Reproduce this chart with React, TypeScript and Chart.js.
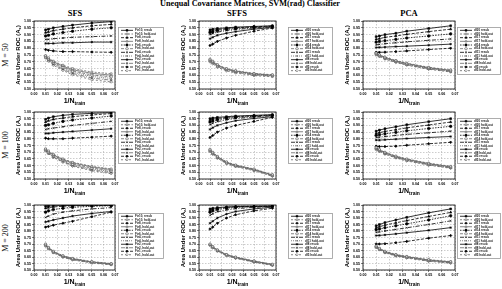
import React, { useEffect, useRef } from "react";
import { Chart, registerables } from "chart.js";
import { drawPoint } from "chart.js/helpers";
Chart.register(...registerables);

// ---------- DATA ----------
const nTrainInv = [0.01, 0.0125, 0.0167, 0.025, 0.0333, 0.05, 0.0667];
const xTickValues = [0, 0.01, 0.02, 0.03, 0.04, 0.05, 0.06, 0.07];
const yTickValues = [0.5, 0.55, 0.6, 0.65, 0.7, 0.75, 0.8, 0.85, 0.9, 0.95, 1.0];

const sfsNames = ["Ftr10", "Ftr8", "Ftr6", "Ftr4", "Ftr2", "Ftr1"];
const dfNames = ["df20", "df17", "df14", "df11", "df8", "df5"];
const columnTitles = ["SFS", "SFFS", "PCA"];
const rowTitles = ["M = 50", "M = 100", "M = 200"];
const mainTitle = "Unequal Covariance Matrices, SVM(rad) Classifier";

const sfs50Resub = [
  [0.935, 0.94, 0.95, 0.96, 0.97, 0.985, 0.995],
  [0.915, 0.92, 0.93, 0.94, 0.95, 0.965, 0.975],
  [0.89, 0.895, 0.905, 0.915, 0.925, 0.94, 0.95],
  [0.865, 0.865, 0.87, 0.875, 0.88, 0.885, 0.89],
  [0.835, 0.835, 0.835, 0.84, 0.84, 0.845, 0.845],
  [0.79, 0.785, 0.78, 0.775, 0.775, 0.772, 0.77],
];
const sfs50Hold = [
  [0.745, 0.73, 0.705, 0.675, 0.65, 0.625, 0.612],
  [0.742, 0.725, 0.7, 0.668, 0.642, 0.615, 0.602],
  [0.738, 0.72, 0.694, 0.66, 0.633, 0.603, 0.59],
  [0.735, 0.715, 0.688, 0.652, 0.624, 0.592, 0.578],
  [0.732, 0.71, 0.682, 0.644, 0.615, 0.58, 0.565],
  [0.728, 0.705, 0.675, 0.636, 0.605, 0.568, 0.552],
];
const sfs100Resub = [
  [0.945, 0.955, 0.965, 0.975, 0.982, 0.99, 0.995],
  [0.925, 0.935, 0.945, 0.955, 0.965, 0.978, 0.988],
  [0.9, 0.905, 0.915, 0.93, 0.94, 0.955, 0.97],
  [0.87, 0.875, 0.88, 0.89, 0.9, 0.915, 0.93],
  [0.84, 0.84, 0.845, 0.85, 0.855, 0.865, 0.875],
  [0.805, 0.8, 0.8, 0.8, 0.805, 0.812, 0.82],
];
const sfs100Hold = [
  [0.725, 0.71, 0.685, 0.65, 0.625, 0.595, 0.575],
  [0.72, 0.705, 0.68, 0.645, 0.62, 0.59, 0.57],
  [0.72, 0.7, 0.675, 0.64, 0.612, 0.582, 0.562],
  [0.715, 0.695, 0.67, 0.635, 0.605, 0.575, 0.555],
  [0.715, 0.69, 0.665, 0.63, 0.6, 0.568, 0.548],
  [0.71, 0.69, 0.66, 0.625, 0.595, 0.562, 0.54],
];
const sfs200Resub = [
  [0.99, 0.992, 0.994, 0.996, 0.997, 0.998, 0.999],
  [0.975, 0.98, 0.985, 0.99, 0.993, 0.995, 0.997],
  [0.945, 0.955, 0.965, 0.975, 0.982, 0.99, 0.994],
  [0.905, 0.915, 0.93, 0.945, 0.955, 0.97, 0.98],
  [0.87, 0.875, 0.885, 0.9, 0.915, 0.935, 0.95],
  [0.83, 0.835, 0.845, 0.86, 0.875, 0.91, 0.945],
];
const sfs200Hold = [
  [0.7, 0.675, 0.645, 0.61, 0.59, 0.565, 0.55],
  [0.695, 0.672, 0.642, 0.608, 0.587, 0.562, 0.548],
  [0.693, 0.67, 0.64, 0.605, 0.585, 0.56, 0.546],
  [0.69, 0.668, 0.638, 0.603, 0.583, 0.558, 0.544],
  [0.688, 0.665, 0.635, 0.6, 0.58, 0.556, 0.542],
  [0.685, 0.662, 0.632, 0.598, 0.578, 0.553, 0.54],
];
const sffs50Resub = [
  [0.935, 0.94, 0.945, 0.95, 0.955, 0.96, 0.965],
  [0.925, 0.93, 0.937, 0.945, 0.95, 0.957, 0.963],
  [0.915, 0.92, 0.93, 0.938, 0.945, 0.953, 0.96],
  [0.9, 0.908, 0.918, 0.93, 0.938, 0.948, 0.957],
  [0.87, 0.88, 0.895, 0.91, 0.922, 0.94, 0.952],
  [0.82, 0.83, 0.85, 0.875, 0.895, 0.925, 0.948],
];
const sffs50Hold = [
  [0.72, 0.705, 0.68, 0.65, 0.635, 0.615, 0.605],
  [0.715, 0.7, 0.675, 0.648, 0.632, 0.612, 0.602],
  [0.712, 0.697, 0.672, 0.645, 0.63, 0.61, 0.6],
  [0.71, 0.695, 0.67, 0.642, 0.627, 0.607, 0.597],
  [0.705, 0.69, 0.665, 0.638, 0.623, 0.603, 0.594],
  [0.7, 0.685, 0.66, 0.633, 0.618, 0.598, 0.59],
];
const sffs100Resub = [
  [0.95, 0.955, 0.96, 0.965, 0.97, 0.975, 0.98],
  [0.94, 0.945, 0.952, 0.96, 0.965, 0.972, 0.978],
  [0.925, 0.932, 0.942, 0.952, 0.96, 0.968, 0.975],
  [0.905, 0.915, 0.928, 0.942, 0.952, 0.963, 0.972],
  [0.87, 0.883, 0.9, 0.92, 0.935, 0.952, 0.965],
  [0.81, 0.825, 0.85, 0.88, 0.9, 0.93, 0.96],
];
const sffs100Hold = [
  [0.722, 0.7, 0.67, 0.628, 0.605, 0.575, 0.532],
  [0.718, 0.697, 0.667, 0.625, 0.602, 0.572, 0.53],
  [0.715, 0.694, 0.664, 0.622, 0.6, 0.57, 0.528],
  [0.712, 0.691, 0.661, 0.62, 0.598, 0.568, 0.526],
  [0.708, 0.688, 0.658, 0.617, 0.595, 0.565, 0.523],
  [0.705, 0.685, 0.655, 0.614, 0.592, 0.562, 0.52],
];
const sffs200Resub = [
  [0.97, 0.975, 0.98, 0.985, 0.988, 0.99, 0.992],
  [0.96, 0.967, 0.975, 0.982, 0.986, 0.989, 0.991],
  [0.945, 0.955, 0.965, 0.975, 0.982, 0.987, 0.99],
  [0.92, 0.932, 0.948, 0.962, 0.972, 0.982, 0.988],
  [0.86, 0.875, 0.9, 0.93, 0.95, 0.97, 0.983],
  [0.815, 0.83, 0.86, 0.9, 0.925, 0.955, 0.975],
];
const sffs200Hold = [
  [0.7, 0.68, 0.655, 0.62, 0.6, 0.57, 0.545],
  [0.698, 0.678, 0.653, 0.618, 0.598, 0.568, 0.543],
  [0.696, 0.676, 0.651, 0.616, 0.596, 0.566, 0.541],
  [0.694, 0.674, 0.649, 0.614, 0.594, 0.564, 0.539],
  [0.692, 0.672, 0.647, 0.612, 0.592, 0.562, 0.537],
  [0.69, 0.67, 0.645, 0.61, 0.59, 0.56, 0.535],
];
const pca50Resub = [
  [0.885, 0.89, 0.9, 0.91, 0.925, 0.945, 0.965],
  [0.865, 0.87, 0.88, 0.89, 0.902, 0.922, 0.94],
  [0.845, 0.85, 0.855, 0.865, 0.875, 0.89, 0.905],
  [0.825, 0.828, 0.833, 0.84, 0.847, 0.858, 0.868],
  [0.805, 0.806, 0.808, 0.812, 0.815, 0.822, 0.83],
  [0.77, 0.77, 0.771, 0.775, 0.78, 0.79, 0.8],
];
const pca50Hold = [
  [0.765, 0.752, 0.735, 0.71, 0.69, 0.66, 0.64],
  [0.762, 0.75, 0.732, 0.707, 0.687, 0.657, 0.637],
  [0.76, 0.747, 0.729, 0.704, 0.684, 0.654, 0.634],
  [0.757, 0.744, 0.726, 0.701, 0.681, 0.651, 0.631],
  [0.754, 0.741, 0.723, 0.698, 0.678, 0.648, 0.628],
  [0.75, 0.738, 0.72, 0.695, 0.675, 0.645, 0.625],
];
const pca100Resub = [
  [0.857, 0.865, 0.875, 0.89, 0.905, 0.928, 0.95],
  [0.84, 0.846, 0.855, 0.868, 0.882, 0.903, 0.925],
  [0.826, 0.83, 0.837, 0.848, 0.86, 0.877, 0.893],
  [0.81, 0.812, 0.817, 0.825, 0.833, 0.845, 0.857],
  [0.79, 0.79, 0.793, 0.797, 0.802, 0.81, 0.817],
  [0.745, 0.742, 0.742, 0.745, 0.752, 0.763, 0.774],
];
const pca100Hold = [
  [0.735, 0.72, 0.7, 0.672, 0.65, 0.618, 0.595],
  [0.732, 0.717, 0.697, 0.669, 0.647, 0.615, 0.592],
  [0.729, 0.714, 0.694, 0.666, 0.644, 0.612, 0.589],
  [0.726, 0.711, 0.691, 0.663, 0.641, 0.609, 0.586],
  [0.723, 0.708, 0.688, 0.66, 0.638, 0.606, 0.583],
  [0.72, 0.705, 0.685, 0.657, 0.635, 0.603, 0.58],
];
const pca200Resub = [
  [0.84, 0.85, 0.865, 0.885, 0.905, 0.94, 0.97],
  [0.825, 0.833, 0.845, 0.863, 0.88, 0.912, 0.943],
  [0.81, 0.815, 0.825, 0.84, 0.855, 0.885, 0.917],
  [0.79, 0.793, 0.8, 0.812, 0.825, 0.85, 0.878],
  [0.765, 0.766, 0.77, 0.778, 0.787, 0.805, 0.826],
  [0.7, 0.7, 0.702, 0.71, 0.72, 0.745, 0.765],
];
const pca200Hold = [
  [0.685, 0.668, 0.645, 0.62, 0.605, 0.58, 0.565],
  [0.682, 0.665, 0.642, 0.617, 0.602, 0.577, 0.562],
  [0.68, 0.663, 0.64, 0.615, 0.6, 0.575, 0.56],
  [0.677, 0.66, 0.637, 0.612, 0.597, 0.572, 0.557],
  [0.675, 0.658, 0.635, 0.61, 0.595, 0.57, 0.555],
  [0.672, 0.655, 0.632, 0.607, 0.592, 0.567, 0.552],
];

// ---------- LAYOUT / STYLE ----------
const COLS = [
  { canvasL: 10, plotL: 34, plotR: 115, legL: 118, legR: 163, canvasR: 166 },
  { canvasL: 175, plotL: 199, plotR: 276, legL: 288, legR: 332, canvasR: 335 },
  { canvasL: 339, plotL: 363, plotR: 455, legL: 457, legR: 500, canvasR: 502 },
];
const ROWS = [
  { plotT: 21, plotB: 89, legT: 27, legB: 74 },
  { plotT: 112, plotB: 179, legT: 118, legB: 163 },
  { plotT: 205, plotB: 270, legT: 213, legB: 258 },
];
const TOP_PAD = 5;
const X_AXIS_H = 17;

const pointStyles = ["rect", "triangle", "circle", "crossRot", "star", "rectRot"];
const resubDash = [[], [3, 1.5], [1.5, 1.2], [4, 1.5, 1, 1.5], [], [3, 1.5]];
const holdDash = [[2, 1.5], [], [3, 1.5], [1, 1], [4, 1.5, 1, 1.5], [2, 2]];

const SANS = '"Liberation Sans", Arial, sans-serif';
const SERIF = '"Liberation Serif", "Times New Roman", serif';

const legendBox = {
  id: "legendBox",
  afterDraw(chart: any, _a: any, opts: any) {
    const { ctx } = chart;
    const { x, y, w, h } = opts;
    ctx.save();
    ctx.fillStyle = "#fff";
    ctx.fillRect(x, y, w, h);
    ctx.strokeStyle = "#9a9a9a";
    ctx.lineWidth = 0.8;
    ctx.strokeRect(x + 0.5, y + 0.5, w, h);
    const ds = chart.data.datasets;
    const step = (h - 3) / ds.length;
    ds.forEach((d: any, i: number) => {
      const cy = y + 1.5 + step * (i + 0.5);
      ctx.setLineDash(d.borderDash || []);
      ctx.strokeStyle = d.borderColor;
      ctx.lineWidth = d.borderWidth;
      ctx.beginPath();
      ctx.moveTo(x + 3, cy);
      ctx.lineTo(x + 15, cy);
      ctx.stroke();
      ctx.setLineDash([]);
      ctx.fillStyle = d.pointBackgroundColor;
      ctx.strokeStyle = d.pointBorderColor;
      ctx.lineWidth = 0.6;
      drawPoint(ctx, { pointStyle: d.pointStyle, radius: 1.2, borderWidth: 0.6, rotation: 0 } as any, x + 9, cy);
      ctx.fillStyle = "#222";
      ctx.font = `bold 3px ${SANS}`;
      ctx.textBaseline = "middle";
      ctx.textAlign = "left";
      ctx.fillText(d.label, x + 17, cy);
    });
    ctx.restore();
  },
};

const decor = {
  id: "decor",
  afterDraw(chart: any) {
    const { ctx, chartArea: a } = chart;
    ctx.save();
    ctx.strokeStyle = "#000";
    ctx.lineWidth = 0.8;
    ctx.strokeRect(a.left, a.top, a.right - a.left, a.bottom - a.top);
    ctx.fillStyle = "#000";
    ctx.textBaseline = "alphabetic";
    // x title: 1/N_train
    const mainX = `bold 7px ${SANS}`;
    const subX = `bold 5px ${SANS}`;
    ctx.font = mainX;
    const w1 = ctx.measureText("1/N").width;
    ctx.font = subX;
    const w2 = ctx.measureText("train").width;
    const cx = (a.left + a.right) / 2;
    const by = a.bottom + 14;
    const sx = cx - (w1 + w2) / 2;
    ctx.font = mainX;
    ctx.fillText("1/N", sx, by);
    ctx.font = subX;
    ctx.fillText("train", sx + w1, by + 1.5);
    // y title
    const mainY = `bold 6px ${SANS}`;
    const subY = `bold 4.2px ${SANS}`;
    ctx.translate(a.left - 14.5, (a.top + a.bottom) / 2);
    ctx.rotate(-Math.PI / 2);
    ctx.font = mainY;
    const t1 = "Area Under ROC (A";
    const u1 = ctx.measureText(t1).width;
    ctx.font = subY;
    const u2 = ctx.measureText("z").width;
    ctx.font = mainY;
    const u3 = ctx.measureText(")").width;
    const px = -(u1 + u2 + u3) / 2;
    ctx.fillText(t1, px, 0);
    ctx.font = subY;
    ctx.fillText("z", px + u1, 1.3);
    ctx.font = mainY;
    ctx.fillText(")", px + u1 + u2, 0);
    ctx.restore();
  },
};

type PanelDef = { col: number; row: number; resub: number[][]; hold: number[][]; names: string[]; sep: string };

const panels: PanelDef[] = [
  { col: 0, row: 0, resub: sfs50Resub, hold: sfs50Hold, names: sfsNames, sep: ", " },
  { col: 1, row: 0, resub: sffs50Resub, hold: sffs50Hold, names: dfNames, sep: " " },
  { col: 2, row: 0, resub: pca50Resub, hold: pca50Hold, names: dfNames, sep: " " },
  { col: 0, row: 1, resub: sfs100Resub, hold: sfs100Hold, names: sfsNames, sep: ", " },
  { col: 1, row: 1, resub: sffs100Resub, hold: sffs100Hold, names: dfNames, sep: " " },
  { col: 2, row: 1, resub: pca100Resub, hold: pca100Hold, names: dfNames, sep: " " },
  { col: 0, row: 2, resub: sfs200Resub, hold: sfs200Hold, names: sfsNames, sep: ", " },
  { col: 1, row: 2, resub: sffs200Resub, hold: sffs200Hold, names: dfNames, sep: " " },
  { col: 2, row: 2, resub: pca200Resub, hold: pca200Hold, names: dfNames, sep: " " },
];

function Panel({ p }: { p: PanelDef }) {
  const ref = useRef<HTMLCanvasElement>(null);
  const c = COLS[p.col];
  const r = ROWS[p.row];
  const top = r.plotT - TOP_PAD;
  const width = c.canvasR - c.canvasL;
  const height = r.plotB - top + X_AXIS_H;
  useEffect(() => {
    const datasets: any[] = [];
    for (let i = 0; i < 6; i++) {
      datasets.push({
        label: `${p.names[i]}${p.sep}resub`,
        data: p.resub[i].map((y, j) => ({ x: nTrainInv[j], y })),
        borderColor: "#000",
        borderWidth: 0.8,
        borderDash: resubDash[i],
        pointStyle: pointStyles[i],
        pointRadius: 1.3,
        pointBorderWidth: 0.6,
        pointBackgroundColor: "#000",
        pointBorderColor: "#000",
        tension: 0,
      });
      datasets.push({
        label: `${p.names[i]}${p.sep}hold-out`,
        data: p.hold[i].map((y, j) => ({ x: nTrainInv[j], y })),
        borderColor: "#666",
        borderWidth: 0.8,
        borderDash: holdDash[i],
        pointStyle: pointStyles[i],
        pointRadius: 1.3,
        pointBorderWidth: 0.6,
        pointBackgroundColor: "#fff",
        pointBorderColor: "#555",
        tension: 0,
      });
    }
    const tickFont = { family: SANS, size: 3.6, weight: "bold" as const };
    const chart = new Chart(ref.current as HTMLCanvasElement, {
      type: "line",
      data: { datasets },
      plugins: [decor, legendBox],
      options: {
        animation: false,
        responsive: false,
        maintainAspectRatio: false,
        devicePixelRatio: 1,
        events: [],
        layout: { padding: { top: TOP_PAD, right: c.canvasR - c.plotR, left: 0, bottom: 0 } },
        plugins: {
          legend: { display: false },
          tooltip: { enabled: false },
          legendBox: {
            x: c.legL - c.canvasL,
            y: r.legT - top,
            w: c.legR - c.legL,
            h: r.legB - r.legT,
          },
        } as any,
        scales: {
          x: {
            type: "linear",
            min: 0,
            max: 0.07,
            afterBuildTicks: (s: any) => {
              s.ticks = xTickValues.map((v) => ({ value: v }));
            },
            afterFit: (s: any) => {
              s.height = X_AXIS_H;
            },
            ticks: {
              font: tickFont,
              color: "#000",
              padding: 1,
              maxRotation: 0,
              autoSkip: false,
              callback: (v: any) => Number(v).toFixed(2),
            },
            grid: { color: "#9a9a9a", lineWidth: 0.5, tickLength: 2, tickColor: "#000" },
            border: { display: false, dash: [1.5, 1.5] },
          },
          y: {
            type: "linear",
            min: 0.5,
            max: 1.0,
            afterBuildTicks: (s: any) => {
              s.ticks = yTickValues.map((v) => ({ value: v }));
            },
            afterFit: (s: any) => {
              s.width = c.plotL - c.canvasL;
            },
            ticks: {
              font: tickFont,
              color: "#000",
              padding: 1,
              autoSkip: false,
              callback: (v: any) => Number(v).toFixed(2),
            },
            grid: { color: "#9a9a9a", lineWidth: 0.5, tickLength: 2, tickColor: "#000" },
            border: { display: false, dash: [1.5, 1.5] },
          },
        },
      } as any,
    });
    return () => chart.destroy();
  }, []);
  return (
    <canvas
      ref={ref}
      width={width}
      height={height}
      style={{ position: "absolute", left: c.canvasL, top, width, height }}
    />
  );
}

function Label({ text, cx, cy, size, bold, rotate, family }: any) {
  return (
    <div
      style={{
        position: "absolute",
        left: cx,
        top: cy,
        transform: `translate(-50%, -50%)${rotate ? " rotate(-90deg)" : ""}`,
        whiteSpace: "nowrap",
        fontFamily: family,
        fontSize: size,
        fontWeight: bold ? "bold" : "normal",
        lineHeight: 1,
        color: "#000",
      }}
    >
      {text}
    </div>
  );
}

const colTitleX = [75, 237, 409];
const rowTitleY = [55, 145, 238];

export default function App() {
  return (
    <div style={{ position: "fixed", left: 0, top: 0, width: 502, height: 289, background: "#fff", overflow: "hidden" }}>
      <Label text={mainTitle} cx={250} cy={4} size={8.2} bold family={SERIF} />
      {columnTitles.map((t, i) => (
        <Label key={t} text={t} cx={colTitleX[i]} cy={12.5} size={8.5} bold family={SERIF} />
      ))}
      {rowTitles.map((t, i) => (
        <Label key={t} text={t} cx={6} cy={rowTitleY[i]} size={8} rotate family={SERIF} />
      ))}
      {panels.map((p, i) => (
        <Panel key={i} p={p} />
      ))}
    </div>
  );
}
